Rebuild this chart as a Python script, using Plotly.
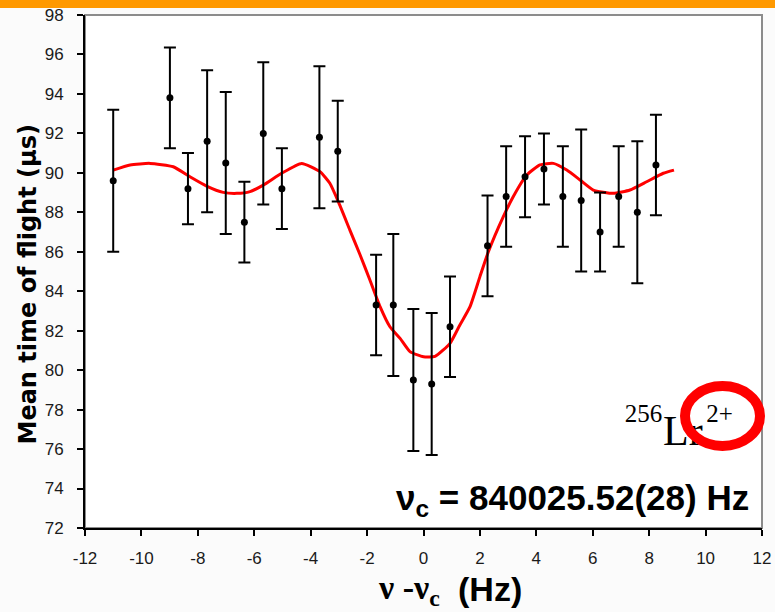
import plotly.graph_objects as go

# Measured time-of-flight resonance for 256Lr2+
freq_offset = [-11.0, -8.99, -8.35, -7.67, -7.01, -6.35, -5.68, -5.02, -3.69, -3.04,
               -1.68, -1.07, -0.36, 0.29, 0.94, 2.27, 2.93, 3.60, 4.27, 4.94,
               5.59, 6.26, 6.92, 7.58, 8.24]
tof_mean = [89.6, 93.8, 89.2, 91.6, 90.5, 87.5, 92.0, 89.2, 91.8, 91.1,
            83.3, 83.3, 79.5, 79.3, 82.2, 86.3, 88.8, 89.8, 90.2, 88.8,
            88.6, 87.0, 88.8, 88.0, 90.4]
tof_err = [3.6, 2.55, 1.8, 3.6, 3.6, 2.05, 3.6, 2.05, 3.6, 2.55,
           2.55, 3.6, 3.6, 3.6, 2.55, 2.55, 2.55, 2.05, 1.8, 2.55,
           3.6, 2.0, 2.55, 3.6, 2.55]

# Fitted line shape
fit_x = [-11.0, -10.4, -9.7, -8.87, -8.28, -7.69, -7.10, -6.62, -6.15, -5.68,
         -5.03, -4.32, -3.67, -3.32, -3.02, -2.61, -2.25, -1.90, -1.54, -1.19,
         -0.83, -0.48, 0.0, 0.41, 0.94, 1.29, 1.65, 2.00, 2.30, 2.83,
         3.18, 3.66, 4.13, 4.60, 5.08, 5.55, 6.02, 6.73, 7.32, 7.91,
         8.50, 8.88]
fit_y = [90.14, 90.40, 90.48, 90.31, 89.80, 89.33, 89.01, 88.96, 89.05, 89.38,
         89.98, 90.48, 90.06, 89.47, 88.54, 87.10, 85.85, 84.57, 83.22, 82.20,
         81.61, 80.94, 80.68, 80.70, 81.36, 82.29, 83.22, 84.74, 86.00, 87.78,
         88.79, 89.89, 90.40, 90.48, 90.14, 89.64, 89.13, 88.96, 89.13, 89.55,
         89.98, 90.14]

x_ticks = list(range(-12, 13, 2))
y_ticks = list(range(72, 99, 2))

SANS = "Liberation Sans Narrow, Arial Narrow, Liberation Sans, Arial, sans-serif"
SANS_BOLD = "Liberation Sans, Arial, sans-serif"
SERIF = "Liberation Serif, Times New Roman, serif"

fig = go.Figure()

fig.add_trace(go.Scatter(
    x=fit_x, y=fit_y, mode="lines",
    line=dict(color="#ff0000", width=3, shape="spline", smoothing=0.5),
    hoverinfo="skip", showlegend=False,
))

fig.add_trace(go.Scatter(
    x=freq_offset, y=tof_mean, mode="markers",
    marker=dict(color="black", size=7),
    error_y=dict(type="data", array=tof_err, visible=True,
                 color="black", thickness=2, width=6),
    showlegend=False,
))

# Ion label, drawn in the plot layer so the ring can sit above it
fig.add_trace(go.Scatter(
    x=[8.46, 8.49, 10.02], y=[77.68, 76.75, 77.68],
    mode="text",
    text=["256", "Lr", "2+"],
    textposition=["middle left", "middle right", "middle right"],
    textfont=dict(family=SERIF, size=[25, 42, 25], color="black"),
    hoverinfo="skip", showlegend=False, cliponaxis=False,
))

# plot area spans x 85..762 px and y 15..528 px of the page
def px_x(p):
    return (p - 85) / 677


def px_y(p):
    return (528 - p) / 513


fig.update_layout(
    width=775, height=612, autosize=False,
    margin=dict(l=85, r=13, t=15, b=84, autoexpand=False),
    paper_bgcolor="#fbfbfb",
    plot_bgcolor="#ffffff",
    xaxis=dict(
        range=[-12, 12], tickvals=x_ticks, ticktext=[str(v) for v in x_ticks],
        showgrid=False, zeroline=False, automargin=False,
        showline=True, linecolor="black", linewidth=2,
        ticks="outside", ticklen=6, tickwidth=1.5, tickcolor="black",
        ticklabelstandoff=8,
        tickfont=dict(family=SANS, size=17, color="#1a1a1a"),
    ),
    yaxis=dict(
        range=[72, 98], tickvals=y_ticks, ticktext=[str(v) for v in y_ticks],
        showgrid=False, zeroline=False, automargin=False,
        showline=True, linecolor="black", linewidth=2,
        ticks="outside", ticklen=6, tickwidth=1.5, tickcolor="black",
        ticklabelstandoff=10,
        tickfont=dict(family=SANS, size=17, color="#1a1a1a"),
    ),
    shapes=[
        # grey frame on the open sides of the plot area
        dict(type="rect", xref="paper", yref="paper", x0=0, x1=1, y0=0, y1=1,
             line=dict(color="#8c8c8c", width=2), layer="below"),
        # orange header strip
        dict(type="rect", xref="paper", yref="paper",
             x0=-0.2, x1=1.1, y0=px_y(8), y1=px_y(-5),
             fillcolor="#ff9900", line=dict(width=0), layer="above"),
        # red ring around the charge state
        dict(type="circle", xref="paper", yref="paper",
             x0=px_x(685), x1=px_x(760), y0=px_y(446), y1=px_y(386),
             line=dict(color="#ff0000", width=10), layer="above"),
    ],
    annotations=[
        dict(text="Mean time of flight (µs)", textangle=-90,
             xref="paper", yref="paper", x=px_x(27.5), y=px_y(285),
             xanchor="center", yanchor="middle", showarrow=False,
             font=dict(family="DejaVu Sans, sans-serif", size=24,
                       color="black", weight="bold")),
        # x-axis title: serif symbols followed by the bold unit
        dict(text="ν -ν<sub>c</sub>",
             xref="paper", yref="paper", x=px_x(442), y=px_y(590),
             xanchor="right", yanchor="middle", showarrow=False,
             font=dict(family=SERIF, size=34, color="black", weight="bold")),
        dict(text="(Hz)",
             xref="paper", yref="paper", x=px_x(456), y=px_y(589),
             xanchor="left", yanchor="middle", showarrow=False,
             font=dict(family=SANS_BOLD, size=34, color="black", weight="bold")),
        dict(text="<b>ν<sub>c</sub> = 840025.52(28) Hz</b>",
             xref="paper", yref="paper", x=px_x(751), y=px_y(500),
             xanchor="right", yanchor="middle", showarrow=False,
             font=dict(family=SANS_BOLD, size=35, color="black")),
    ],
)

fig.write_html("out.html")
